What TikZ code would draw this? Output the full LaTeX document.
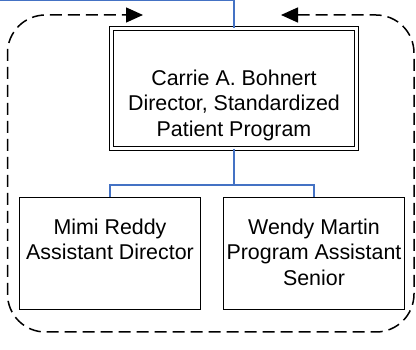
\documentclass[tikz,border=0pt]{standalone}
\usepackage{fontspec}
\setmainfont{Liberation Sans}
\usetikzlibrary{arrows.meta}
\definecolor{connblue}{RGB}{68,114,196}
\begin{document}
\begin{tikzpicture}[x=1pt,y=-1pt,
  dirbox/.style={draw=black,line width=1.3pt,double=white,double distance=2.7pt,minimum width=244.7pt,minimum height=119.7pt,inner sep=0pt},
  childbox/.style={draw=black,line width=1.4pt,minimum width=181pt,minimum height=112pt,inner sep=0pt},
  txt/.style={align=center,inner sep=0pt,anchor=north,font=\fontsize{21.4}{25.5}\selectfont},
  conn/.style={draw=connblue,line width=1.3pt},
  frame/.style={draw=black,line width=1.5pt,dash pattern=on 12pt off 6pt,rounded corners=38pt,{Triangle[length=17pt,width=15pt]}-{Triangle[length=17pt,width=15pt]}}]
\useasboundingbox (0,0) rectangle (416,350);
\node[dirbox] (dir) at (234,88.5) {};
\node[childbox] (left) at (110,253.5) {};
\node[childbox] (right) at (314,253.5) {};
\node[txt] (dirtxt) at (234,69.5) {Carrie A. Bohnert\\Director, Standardized\\Patient Program};
\node[txt] (lefttxt) at (110,218.5) {Mimi Reddy\\Assistant Director};
\node[txt] (righttxt) at (314,218.5) {Wendy Martin\\Program Assistant\\Senior};
\coordinate (topin) at (0,0.8);
\coordinate (bus) at (234,185);
\draw[conn] (topin) -| (dir.north);
\draw[conn] (dir.south) -- (bus) -| (left.north);
\draw[conn] (bus) -| (right.north);
\coordinate (fr1) at (281,15);
\coordinate (fr2) at (143,15);
\draw[frame] (fr1) -- (414,15) -- (414,332) -- (7.5,332) -- (7.5,15) -- (fr2);
\end{tikzpicture}
\end{document}
